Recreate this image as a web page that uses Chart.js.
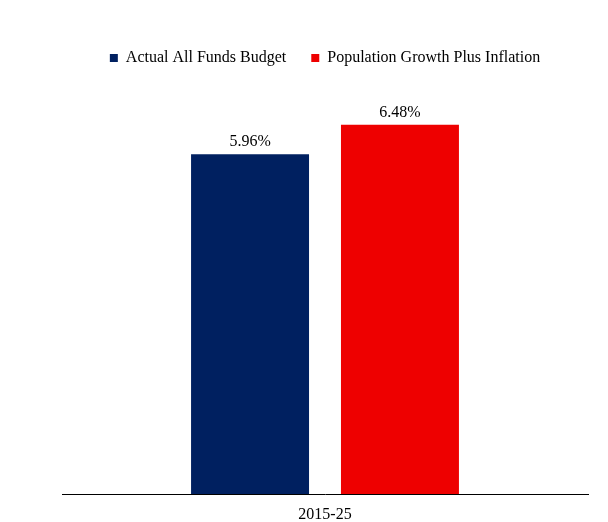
<!DOCTYPE html>
<html>
<head>
<meta charset="utf-8">
<script src="https://cdn.jsdelivr.net/npm/chart.js@4/dist/chart.umd.min.js"></script>
<style>
  html, body { margin: 0; padding: 0; background: #fff; }
  #wrap { width: 608px; height: 522px; }
</style>
</head>
<body>
<div id="wrap"><canvas id="budgetChart"></canvas></div>
<script>
const categories = ['2015-25'];
const seriesNames = ['Actual All Funds Budget', 'Population Growth Plus Inflation'];
const actualBudget = [5.96];
const popGrowthInflation = [6.48];

const serif = "'Times New Roman', 'Liberation Serif', serif";

// draws the % labels above each bar
const valueLabels = {
  id: 'valueLabels',
  afterDatasetsDraw(chart) {
    const c = chart.ctx;
    c.save();
    c.font = '16px ' + serif;
    c.fillStyle = '#000';
    c.textAlign = 'center';
    c.textBaseline = 'bottom';
    chart.data.datasets.forEach((ds, i) => {
      chart.getDatasetMeta(i).data.forEach((bar, j) => {
        c.fillText(ds.data[j].toFixed(2) + '%', bar.x, bar.y - 4);
      });
    });
    c.restore();
  }
};

// extra room under the legend
const legendGap = {
  id: 'legendGap',
  beforeInit(chart) {
    const fit = chart.legend.fit;
    chart.legend.fit = function () {
      fit.bind(chart.legend)();
      this.height += 19;
    };
  }
};

const ctx = document.getElementById('budgetChart').getContext('2d');
const budgetChart = new Chart(ctx, {
  type: 'bar',
  data: {
    labels: categories,
    datasets: [{
      label: seriesNames[0],
      data: actualBudget,
      backgroundColor: '#002060', // navy
    }, {
      label: seriesNames[1],
      data: popGrowthInflation,
      backgroundColor: '#EE0000', // red
    }]
  },
  options: {
    responsive: true,
    maintainAspectRatio: false,
    animation: false,
    categoryPercentage: 0.57,
    barPercentage: 0.787,
    layout: {
      padding: { left: 62, right: 20, top: 25, bottom: 0 },
    },
    scales: {
      y: {
        display: false,
        min: 0,
        max: 7,
      },
      x: {
        grid: { display: false, drawTicks: false },
        border: { display: true, color: '#000', width: 1 },
        ticks: {
          color: '#000',
          font: { family: serif, size: 16 },
          padding: 11,
        },
        afterFit(scale) {
          scale.height = 28;
        },
      },
    },
    plugins: {
      legend: {
        position: 'top',
        labels: {
          color: '#000',
          font: { family: serif, size: 16 },
          boxWidth: 8,
          boxHeight: 8,
          padding: 25,
        },
      },
      tooltip: { enabled: false },
    },
  },
  plugins: [valueLabels, legendGap],
});
</script>
</body>
</html>
